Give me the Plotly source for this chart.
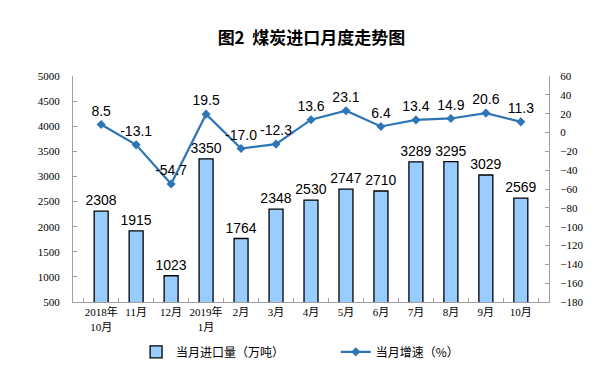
import plotly.graph_objects as go

categories = ["2018年<br>10月", "11月", "12月", "2019年<br>1月", "2月", "3月", "4月",
              "5月", "6月", "7月", "8月", "9月", "10月"]
imports = [2308, 1915, 1023, 3350, 1764, 2348, 2530, 2747, 2710, 3289, 3295, 3029, 2569]
growth = [8.5, -13.1, -54.7, 19.5, -17.0, -12.3, 13.6, 23.1, 6.4, 13.4, 14.9, 20.6, 11.3]
left_ticks = list(range(500, 5001, 500))
right_ticks = list(range(-180, 61, 20))

serif = "Liberation Serif, Times New Roman, Noto Sans CJK SC"
sans = "Liberation Sans, Arial, Noto Sans CJK SC"
cjk = "Noto Sans CJK SC"

fig = go.Figure()
fig.add_trace(go.Bar(
    x=categories, y=imports, name="当月进口量（万吨）", legend="legend",
    marker=dict(color="#99CCFF", line=dict(color="#000000", width=1.3)),
    width=0.4,
    text=[str(v) for v in imports], textposition="outside", constraintext="none",
    textfont=dict(family=sans, size=14, color="#000000"),
    cliponaxis=False,
))
fig.add_trace(go.Scatter(
    x=categories, y=growth, name="当月增速（%）", yaxis="y2", legend="legend2",
    mode="lines+markers+text",
    line=dict(color="#2E75B6", width=2.2),
    marker=dict(symbol="diamond", size=7, color="#2E75B6"),
    text=[f"{v:.1f}" for v in growth], textposition="top center",
    textfont=dict(family=sans, size=14, color="#000000"),
    cliponaxis=False,
))

legend_common = dict(orientation="h", xref="container", yref="container",
                     xanchor="left", yanchor="middle", bgcolor="rgba(0,0,0,0)",
                     font=dict(family=cjk, size=12, color="#000000"), itemwidth=30)

fig.update_layout(
    width=607, height=365,
    margin=dict(l=65, r=66, t=68, b=71, autoexpand=False),
    paper_bgcolor="white", plot_bgcolor="white",
    title=dict(text="图2  煤炭进口月度走势图", x=0.5, xanchor="center", y=0.918, yanchor="middle",
               font=dict(family=cjk, size=17, color="#000000", weight="bold")),
    showlegend=True,
    legend=dict(x=0.211, y=0.058, **legend_common),
    legend2=dict(x=0.54, y=0.058, **legend_common),
    xaxis=dict(type="category", showline=True, linecolor="#A0A0A0", linewidth=1,
               ticks="inside", ticklen=4, tickcolor="#A0A0A0", tickson="boundaries",
               tickangle=0, automargin=False,
               tickfont=dict(family=serif, size=11, color="#000000"),
               showgrid=False, zeroline=False, fixedrange=True),
    yaxis=dict(range=[500, 5000], tickvals=left_ticks, showline=True, linecolor="#A0A0A0",
               ticks="inside", ticklen=4, tickcolor="#A0A0A0", showgrid=False, zeroline=False,
               automargin=False,
               tickfont=dict(family=serif, size=11, color="#000000"), ticklabelstandoff=10),
    yaxis2=dict(range=[-180, 60], tickvals=right_ticks, overlaying="y", side="right",
                showline=True, linecolor="#A0A0A0", ticks="inside", ticklen=4,
                tickcolor="#A0A0A0", showgrid=False, zeroline=False, automargin=False,
                tickfont=dict(family=serif, size=11, color="#000000"), ticklabelstandoff=8),
)

fig.write_html("out.html")
